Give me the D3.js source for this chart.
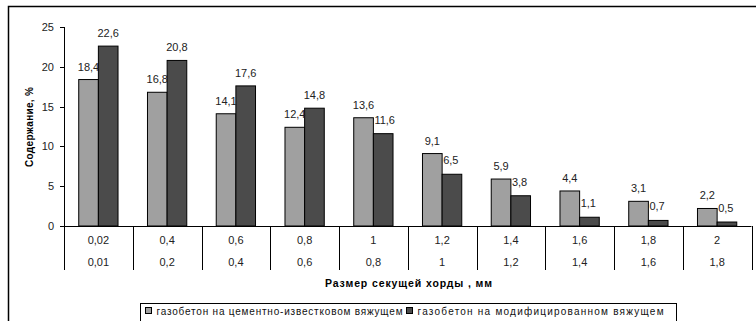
<!DOCTYPE html>
<html>
<head>
<meta charset="utf-8">
<script src="https://cdn.jsdelivr.net/npm/d3@7"></script>
<style>
  html, body { margin: 0; padding: 0; background: #fff; }
  svg { display: block; font-family: Arial, "Liberation Sans", sans-serif; }
</style>
</head>
<body>
<svg id="chart" width="756" height="321"></svg>
<script>
// Chord size classes: upper and lower bound rows of the category axis
const upperBounds = ["0,02", "0,4", "0,6", "0,8", "1", "1,2", "1,4", "1,6", "1,8", "2"];
const lowerBounds = ["0,01", "0,2", "0,4", "0,6", "0,8", "1", "1,2", "1,4", "1,6", "1,8"];
// Content, % for each binder type
const limeCement = [18.4, 16.8, 14.1, 12.4, 13.6, 9.1, 5.9, 4.4, 3.1, 2.2];
const modified   = [22.6, 20.8, 17.6, 14.8, 11.6, 6.5, 3.8, 1.1, 0.7, 0.5];
const seriesNames = ["газобетон на цементно-известковом вяжущем", "газобетон на модифицированном вяжущем"];
const yTicks = [0, 5, 10, 15, 20, 25];

const series = [limeCement, modified];
const colors = ["#a0a0a0", "#4b4b4b"];

const svg = d3.select("#chart");
const fmt = v => String(v).replace(".", ",");

// outer frame
svg.append("path").attr("d", "M8.5,321 V6.5 H756").attr("fill", "none")
  .attr("stroke", "#000").attr("stroke-width", 1.5);

const x0 = 64, x1 = 751.5, yTop = 27, yZero = 226;
const x = d3.scaleBand().domain(d3.range(upperBounds.length)).range([x0, x1]).paddingInner(0).paddingOuter(0);
const y = d3.scaleLinear().domain([0, 25]).range([yZero, yTop]);

// Two bars per category with a gap of 150% of a bar width
const bw = x.bandwidth() / 3.5;
const gapOff = bw * 0.75;

// y axis
const yAxis = svg.append("g").attr("transform", `translate(${x0},0)`);
yAxis.append("line").attr("x1", 0.5).attr("x2", 0.5).attr("y1", y(25)).attr("y2", 270).attr("stroke", "#000");
yTicks.forEach(t => {
  yAxis.append("line").attr("x1", -4).attr("x2", 0.5).attr("y1", Math.round(y(t)) + 0.5).attr("y2", Math.round(y(t)) + 0.5).attr("stroke", "#000");
  yAxis.append("text").attr("x", -10).attr("y", y(t) + 4).attr("text-anchor", "end")
    .attr("font-size", 11).attr("fill", "#222").text(t);
});

// y axis title
svg.append("text").attr("transform", "translate(32.5,127) rotate(-90)")
  .attr("text-anchor", "middle").attr("font-size", 10).attr("font-weight", "bold")
  .attr("textLength", 80).attr("lengthAdjust", "spacing")
  .text("Содержание, %");

// bars
series.forEach((vals, si) => {
  svg.append("g").selectAll("rect").data(vals).join("rect")
    .attr("x", (d, i) => x(i) + gapOff + si * bw)
    .attr("y", d => y(d))
    .attr("width", bw)
    .attr("height", d => yZero - y(d))
    .attr("fill", colors[si])
    .attr("stroke", "#000").attr("stroke-width", 1);
});

// value labels; a shorter second bar gets its label left-aligned to the bar
series.forEach((vals, si) => {
  const beside = (d, i) => si === 1 && d < series[0][i];
  svg.append("g").selectAll("text").data(vals).join("text")
    .attr("x", (d, i) => {
      const left = x(i) + gapOff + si * bw;
      return beside(d, i) ? left + 1 : left + bw / 2;
    })
    .attr("y", (d, i) => y(d) - (beside(d, i) ? 10 : 9))
    .attr("text-anchor", (d, i) => beside(d, i) ? "start" : "middle")
    .attr("font-size", 11).attr("fill", "#222")
    .text(d => fmt(d));
});

// x axis line and category separators
svg.append("line").attr("x1", x0).attr("x2", x1).attr("y1", yZero + 0.5).attr("y2", yZero + 0.5).attr("stroke", "#000");
d3.range(upperBounds.length + 1).forEach(i => {
  const xx = Math.round(i < upperBounds.length ? x(i) : x1) + 0.5;
  svg.append("line").attr("x1", xx).attr("x2", xx).attr("y1", yZero).attr("y2", 270).attr("stroke", "#000");
});
svg.append("g").selectAll("text").data(upperBounds).join("text")
  .attr("x", (d, i) => x(i) + x.bandwidth() / 2).attr("y", 244)
  .attr("text-anchor", "middle").attr("font-size", 11).attr("fill", "#222").text(d => d);
svg.append("g").selectAll("text").data(lowerBounds).join("text")
  .attr("x", (d, i) => x(i) + x.bandwidth() / 2).attr("y", 266)
  .attr("text-anchor", "middle").attr("font-size", 11).attr("fill", "#222").text(d => d);

// x axis title
svg.append("text").attr("x", 408.5).attr("y", 286.5).attr("text-anchor", "middle")
  .attr("font-size", 10.5).attr("font-weight", "bold")
  .attr("textLength", 167).attr("lengthAdjust", "spacing")
  .text("Размер секущей хорды , мм");

// legend
const lg = svg.append("g");
lg.append("rect").attr("x", 140.5).attr("y", 303.5).attr("width", 536).attr("height", 30)
  .attr("fill", "#fff").attr("stroke", "#000");
const legendX = [145.5, 406.5];
seriesNames.forEach((name, si) => {
  const g = lg.append("g");
  g.append("rect").attr("x", legendX[si]).attr("y", 307.5).attr("width", 6).attr("height", 6)
    .attr("fill", colors[si]).attr("stroke", "#000");
  g.append("text").attr("x", legendX[si] + 11).attr("y", 314.5).attr("font-size", 10)
    .attr("textLength", 246).attr("lengthAdjust", "spacing").attr("fill", "#111").text(name);
});
</script>
</body>
</html>
